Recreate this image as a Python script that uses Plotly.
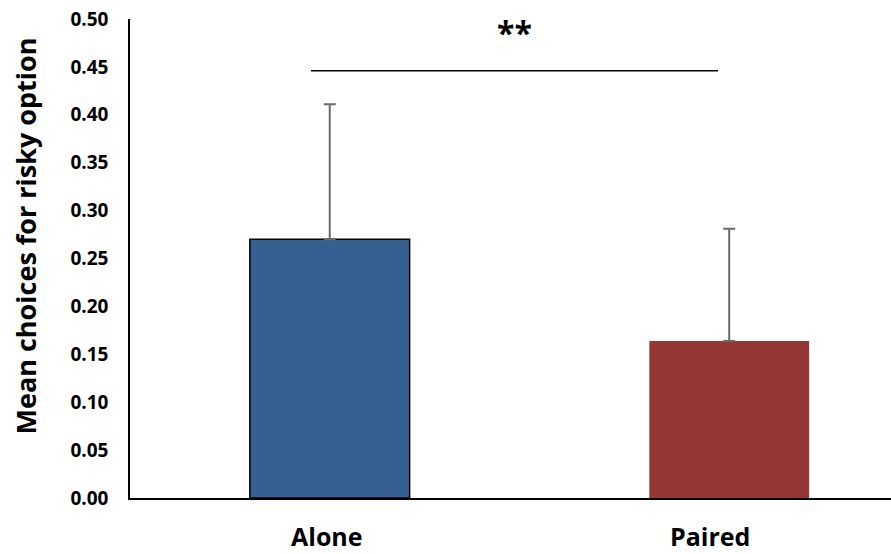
import plotly.graph_objects as go

# Data
groups = ["Alone", "Paired"]
means = [0.270, 0.164]
err_plus = [0.141, 0.117]
bar_colors = ["#376092", "#953735"]
outline_widths = [1.5, 0]
y_ticks = [0.00, 0.05, 0.10, 0.15, 0.20, 0.25, 0.30, 0.35, 0.40, 0.45, 0.50]
sig_label = "**"
sig_y = 0.446

FONT = "Open Sans"

fig = go.Figure()
for i, g in enumerate(groups):
    fig.add_trace(go.Bar(
        x=[g], y=[means[i]],
        width=0.40,
        marker=dict(color=bar_colors[i],
                    line=dict(color="black", width=outline_widths[i])),
        error_y=dict(type="data", array=[err_plus[i]], arrayminus=[0],
                     symmetric=False, color="#6a6a6a", thickness=2, width=6),
        showlegend=False,
    ))

# significance bracket
fig.add_shape(type="line", xref="x", yref="y",
              x0=-0.047, x1=0.972, y0=sig_y, y1=sig_y,
              line=dict(color="black", width=1.5))
fig.add_annotation(x=0.462, y=0.486, xref="x", yref="y", text=f"<b>{sig_label}</b>",
                   showarrow=False, font=dict(family=FONT, size=32, color="black"))

# category labels
for i, g in enumerate(groups):
    fig.add_annotation(x=g, y=0, xref="x", yref="y", text=f"<b>{g}</b>",
                       showarrow=False, yanchor="top", yshift=-19,
                       xshift=[-3, -19][i],
                       font=dict(family=FONT, size=25, color="black"))

# y-axis title
fig.add_annotation(x=0, y=0.5, xref="paper", yref="paper",
                   text="<b>Mean choices for risky option</b>",
                   textangle=-90, showarrow=False, xanchor="center",
                   xshift=-105, yshift=22,
                   font=dict(family=FONT, size=27, color="black"))

fig.update_layout(
    width=891, height=554,
    margin=dict(l=130, r=0, t=19, b=55.5),
    paper_bgcolor="white", plot_bgcolor="white",
    bargap=0.6,
)
fig.update_xaxes(range=[-0.5, 1.405], showticklabels=False, ticks="",
                 showline=True, linecolor="black", linewidth=1.5,
                 showgrid=False, zeroline=False)
fig.update_yaxes(range=[0, 0.5], tickvals=y_ticks,
                 ticktext=[f"<b>{v:.2f}</b>" for v in y_ticks],
                 showline=True, linecolor="black", linewidth=1.5,
                 showgrid=False, zeroline=False, ticks="", ticklen=0,
                 ticklabelstandoff=16,
                 tickfont=dict(family=FONT, size=19, color="black"))

fig.write_html("out.html")
